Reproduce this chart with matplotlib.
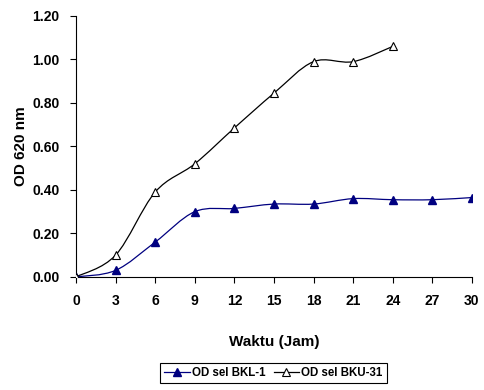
import numpy as np
import matplotlib
matplotlib.use("Agg")
import matplotlib.pyplot as plt
from matplotlib.path import Path
from matplotlib.patches import PathPatch
from matplotlib.lines import Line2D

plt.rcParams["font.family"] = ["Liberation Sans", "DejaVu Sans"]

waktu_bkl = [0, 3, 6, 9, 12, 15, 18, 21, 24, 27, 30]
od_bkl = [0.00, 0.03, 0.16, 0.30, 0.315, 0.335, 0.335, 0.36, 0.355, 0.355, 0.365]
waktu_bku = [0, 3, 6, 9, 12, 15, 18, 21, 24]
od_bku = [0.00, 0.10, 0.39, 0.52, 0.685, 0.845, 0.99, 0.99, 1.06]
x_ticks = [0, 3, 6, 9, 12, 15, 18, 21, 24, 27, 30]
y_ticks = [0.0, 0.2, 0.4, 0.6, 0.8, 1.0, 1.2]


def smooth_path(x, y):
    # excel-style smoothed line as cubic bezier segments
    pts = np.column_stack([x, y]).astype(float)
    n = len(pts)
    verts = [pts[0]]
    codes = [Path.MOVETO]
    for i in range(n - 1):
        p0 = pts[max(i - 1, 0)]
        p1 = pts[i]
        p2 = pts[i + 1]
        p3 = pts[min(i + 2, n - 1)]
        c1 = p1 + (p2 - p0) / 6
        c2 = p2 - (p3 - p1) / 6
        verts += [c1, c2, p2]
        codes += [Path.CURVE4] * 3
    return Path(verts, codes)


fig = plt.figure(figsize=(4.84, 3.9), dpi=100)
ax = fig.add_axes([0.157, 0.29, 0.818, 0.669])

navy = "#000080"
ax.add_patch(PathPatch(smooth_path(waktu_bkl, od_bkl), fill=False, edgecolor=navy, lw=0.9, zorder=2))
ax.add_patch(PathPatch(smooth_path(waktu_bku, od_bku), fill=False, edgecolor="black", lw=0.9, zorder=2))
ax.plot(waktu_bkl, od_bkl, ls="none", marker="^", ms=6, color=navy, zorder=3)
ax.plot(waktu_bku, od_bku, ls="none", marker="^", ms=6, mfc="white", mec="black", mew=0.8, zorder=3)

ax.set_xlim(0, 30)
ax.set_ylim(0, 1.2)
ax.set_xticks(x_ticks)
ax.set_yticks(y_ticks)
ax.set_yticklabels([f"{v:.2f}" for v in y_ticks])
ax.tick_params(labelsize=10, length=4, width=0.8, pad=8)
for lab in ax.get_xticklabels() + ax.get_yticklabels():
    lab.set_fontweight("bold")
ax.spines["top"].set_visible(False)
ax.spines["right"].set_visible(False)

ax.set_xlabel("Waktu (Jam)", fontsize=11, fontweight="bold", labelpad=20)
ax.set_ylabel("OD 620 nm", fontsize=11, fontweight="bold", labelpad=3)

handles = [
    Line2D([], [], color=navy, lw=0.9, marker="^", ms=6),
    Line2D([], [], color="black", lw=0.9, marker="^", ms=6, mfc="white", mec="black", mew=0.8),
]
leg = fig.legend(handles, ["OD sel BKL-1", "OD sel BKU-31"], loc="center",
                 bbox_to_anchor=(0.565, 0.044), ncol=2, fancybox=False,
                 edgecolor="black", framealpha=1, handlelength=2.2,
                 handletextpad=0.2, columnspacing=0.7, borderpad=0.35,
                 borderaxespad=0, prop={"size": 8.3, "weight": "bold"})
leg.get_frame().set_linewidth(0.8)

fig.savefig("out.png", dpi=100)
